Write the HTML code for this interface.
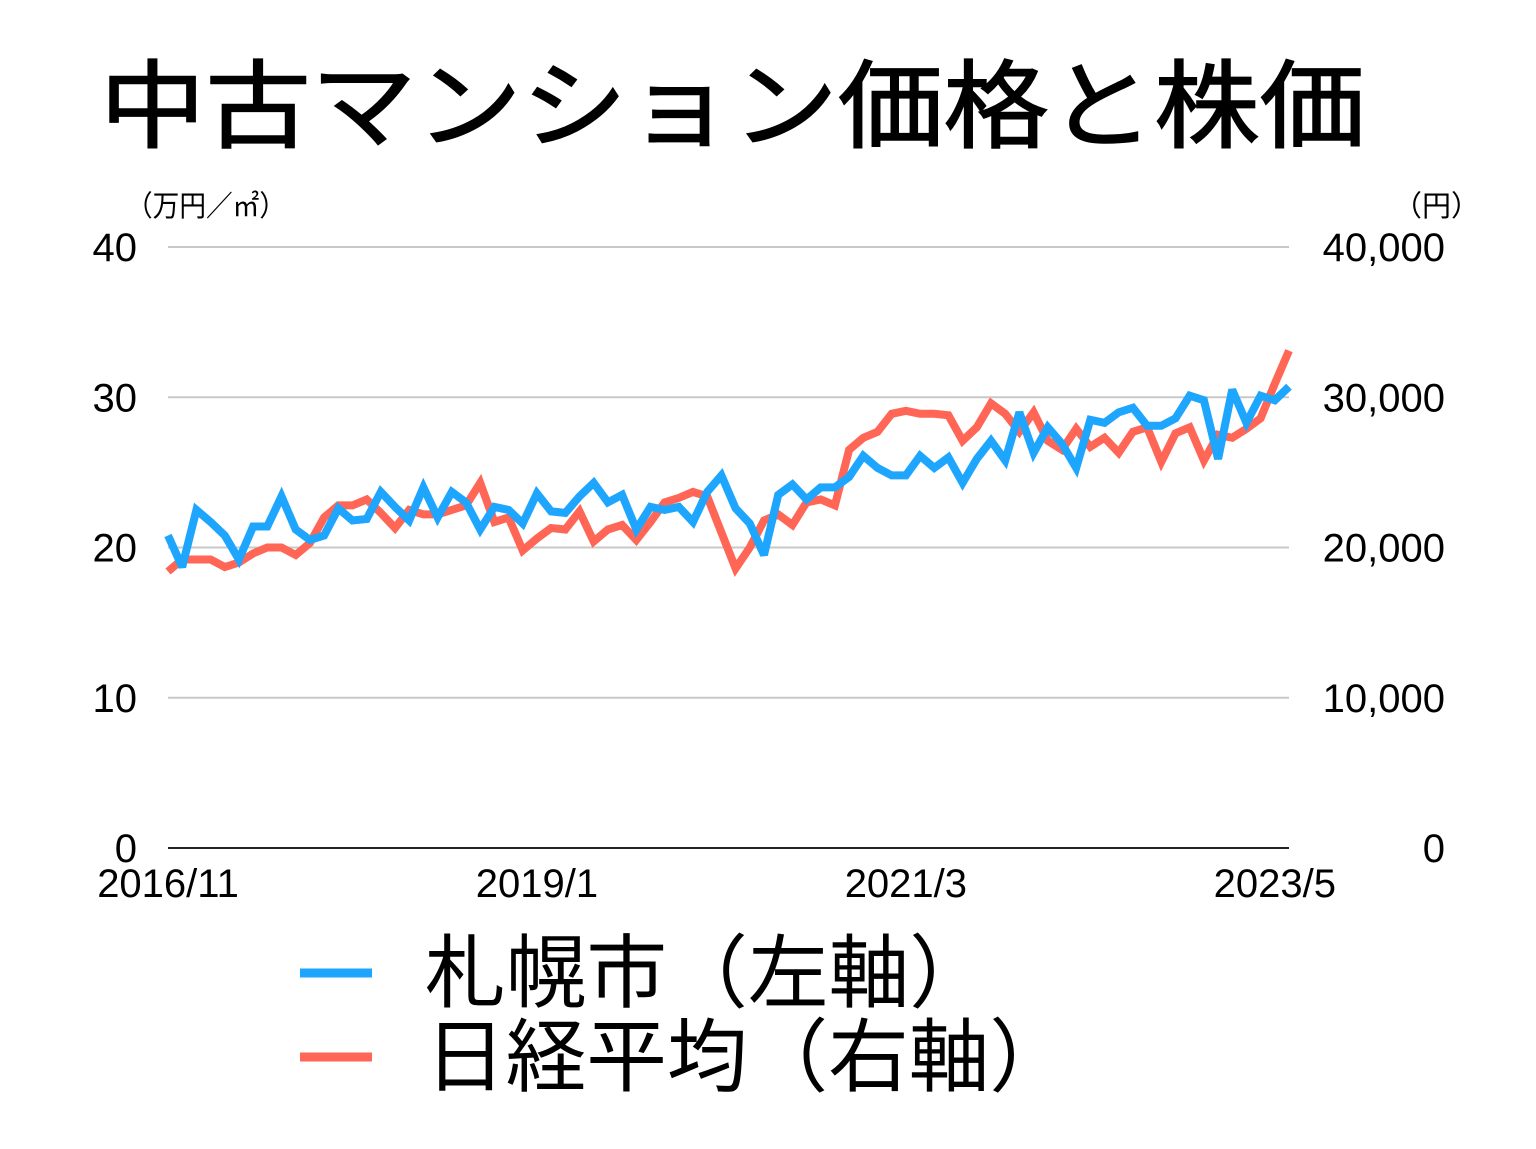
<!DOCTYPE html>
<html><head><meta charset="utf-8">
<style>
html,body{margin:0;padding:0;background:#fff;}
body{width:1536px;height:1144px;overflow:hidden;font-family:"Liberation Sans","Noto Sans CJK JP",sans-serif;}
svg text{font-family:"Liberation Sans","Noto Sans CJK JP",sans-serif;}
</style></head>
<body>
<svg id="chart" width="1536" height="1144" viewBox="0 0 1536 1144" xmlns="http://www.w3.org/2000/svg">
<text x="100" y="140" font-size="96" fill="#000" stroke="#000" stroke-width="1.5" textLength="1265" lengthAdjust="spacingAndGlyphs">中古マンション価格と株価</text>
<text x="126" y="216" font-size="29" fill="#000" textLength="160" lengthAdjust="spacingAndGlyphs">（万円／㎡）</text>
<text x="1480" y="216" font-size="29" fill="#000" text-anchor="end">（円）</text>
<g id="grid"></g>
<g id="series"></g>
<g id="legend">
<line x1="300" y1="973" x2="372" y2="973" stroke="#1EA6FF" stroke-width="9"/>
<text x="425" y="1001" font-size="80" fill="#000" textLength="565" lengthAdjust="spacingAndGlyphs">札幌市（左軸）</text>
<line x1="300" y1="1057" x2="372" y2="1057" stroke="#FF6655" stroke-width="9"/>
<text x="425" y="1085" font-size="80" fill="#000" textLength="645" lengthAdjust="spacingAndGlyphs">日経平均（右軸）</text>
</g>
</svg>
<script>
const leftTicks = [0, 10, 20, 30, 40];
const rightTickLabels = ["0", "10,000", "20,000", "30,000", "40,000"];
const xLabels = ["2016/11", "2019/1", "2021/3", "2023/5"];
const xLabelIndex = [0, 26, 52, 78];
const sapporo = [20.8,18.7,22.5,21.7,20.8,19.2,21.4,21.4,23.4,21.2,20.5,20.8,22.6,21.8,21.9,23.7,22.7,21.8,24.0,22.0,23.7,23.0,21.2,22.7,22.5,21.6,23.6,22.4,
22.3,23.4,24.3,23.0,23.5,21.2,22.7,22.5,22.7,21.7,23.7,24.8,22.6,21.6,19.5,23.5,24.2,23.2,24.0,24.0,24.7,26.1,25.3,24.8,24.8,26.1,
25.3,26.0,24.3,25.9,27.1,25.8,29.0,26.3,28.0,26.9,25.3,28.5,28.3,29.0,29.3,28.1,28.1,28.6,30.1,29.8,25.9,30.5,28.3,30.1,29.8,30.7];
const nikkei = [18400,19200,19200,19200,18700,19000,19600,20000,20000,19500,20300,22000,22800,22800,23200,22300,21300,22500,22200,22200,22500,22800,24300,21700,22000,19800,20600,21300,
21200,22400,20400,21200,21500,20500,21700,23000,23300,23700,23400,21000,18600,20000,21800,22200,21500,23000,23200,22800,26500,
27300,27700,28900,29100,28900,
28900,28800,27100,28000,29600,28900,27700,29000,27100,26500,27900,26700,27300,26300,27700,28000,25700,27600,28000,25800,27500,27300,27900,28600,30900,33100];

const NS = "http://www.w3.org/2000/svg";
const X0 = 168, X1 = 1289, Y0 = 848, Y1 = 247;
const n = sapporo.length;
function xScale(i){ return X0 + (X1 - X0) * i / (n - 1); }
function yLeft(v){ return Y0 - (Y0 - Y1) * v / 40; }
function yRight(v){ return Y0 - (Y0 - Y1) * v / 40000; }
function mk(tag, attrs){ const e = document.createElementNS(NS, tag); for (const k in attrs) e.setAttribute(k, attrs[k]); return e; }

const grid = document.getElementById('grid');
leftTicks.forEach((t, k) => {
  const y = yLeft(t);
  const ln = mk('line', {x1: X0, x2: X1, y1: y, y2: y, stroke: t === 0 ? '#222' : '#c8c8c8', 'stroke-width': 2});
  
  
  grid.appendChild(ln);
  const lt = mk('text', {x: 137, y: y + 14, 'font-size': 40, 'text-anchor': 'end', fill: '#000'});
  lt.textContent = String(t);
  
  
  grid.appendChild(lt);
  const rt = mk('text', {x: 1445, y: y + 14, 'font-size': 40, 'text-anchor': 'end', fill: '#000'});
  rt.textContent = rightTickLabels[k];
  
  
  grid.appendChild(rt);
});
xLabels.forEach((lab, k) => {
  const t = mk('text', {x: xScale(xLabelIndex[k]), y: 897, 'font-size': 40, 'text-anchor': 'middle', fill: '#000'});
  t.textContent = lab;
  
  
  grid.appendChild(t);
});

const series = document.getElementById('series');
function drawLine(vals, yf, color, name){
  const pts = vals.map((v, i) => xScale(i).toFixed(1) + ',' + yf(v).toFixed(1)).join(' ');
  const pl = mk('polyline', {points: pts, fill: 'none', stroke: color, 'stroke-width': 8, 'stroke-linejoin': 'miter', 'stroke-miterlimit': 3});
  
  
  series.appendChild(pl);
}
drawLine(nikkei, yRight, '#FF6655', 'nikkei-line');
drawLine(sapporo, yLeft, '#1EA6FF', 'sapporo-line');
</script>
</body></html>
